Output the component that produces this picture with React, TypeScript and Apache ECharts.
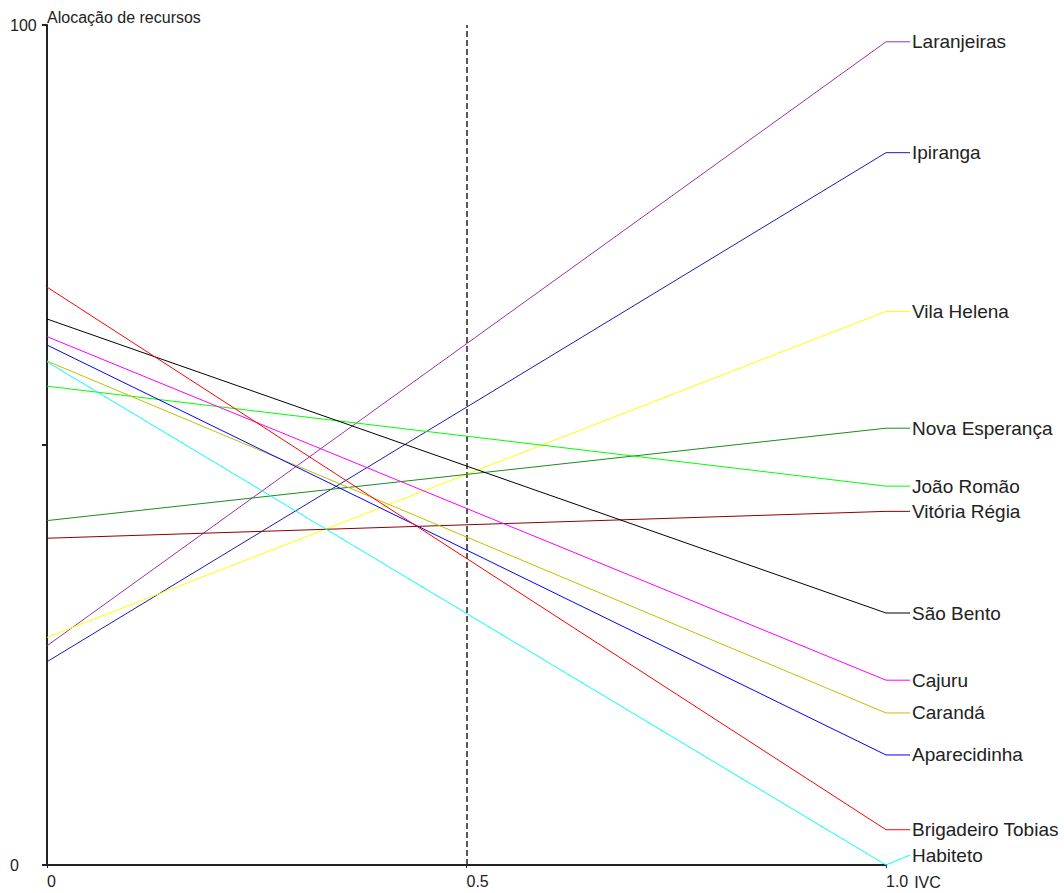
import React, { useEffect, useRef } from "react";
import * as echarts from "echarts";

const names = [
  "Laranjeiras",
  "Ipiranga",
  "Vila Helena",
  "Nova Esperança",
  "João Romão",
  "Vitória Régia",
  "São Bento",
  "Cajuru",
  "Carandá",
  "Aparecidinha",
  "Brigadeiro Tobias",
  "Habiteto",
];
const startValues = [26.1, 24.2, 27.1, 41.0, 57.0, 38.9, 65.0, 62.9, 60.0, 61.9, 68.8, 59.9];
const endValues = [98.0, 84.8, 65.9, 52.0, 45.1, 42.1, 30.0, 22.0, 18.1, 13.1, 4.2, 0];
const colors = [
  "#a030a0",
  "#1c1ca8",
  "#ffff00",
  "#1a8c1a",
  "#00ff00",
  "#8b0000",
  "#000000",
  "#ff00ff",
  "#c0c000",
  "#0000ff",
  "#ff0000",
  "#00ffff",
];
const xLabels: Record<string, string> = { "0": "0", "0.5": "0.5", "1": "1.0" };
const yLabels: Record<string, string> = { "0": "0", "50": "", "100": "100" };
const referenceX = 0.5;

export default function App() {
  const ref = useRef<HTMLDivElement>(null);
  useEffect(() => {
    const chart = echarts.init(ref.current!, null, { renderer: "svg" });
    const textColor = "#222";
    const font = "Liberation Sans";
    const series: any[] = names.map((n, i) => ({
      type: "line",
      name: n,
      data: [
        [0, startValues[i]],
        [1, endValues[i]],
      ],
      symbol: "none",
      clip: false,
      silent: true,
      lineStyle: { color: colors[i], width: 1 },
      itemStyle: { color: colors[i] },
      z: 3,
    }));
    series[0].markLine = {
      silent: true,
      symbol: "none",
      label: { show: false },
      lineStyle: { color: "#222", width: 1.5, type: [6, 3] },
      data: [{ xAxis: referenceX }],
      z: 2,
    };
    chart.setOption({
      animation: false,
      backgroundColor: "#fff",
      grid: { left: 47, right: 178, top: 25, bottom: 28, containLabel: false },
      xAxis: {
        type: "value",
        min: 0,
        max: 1,
        interval: 0.5,
        splitLine: { show: false },
        axisLine: { lineStyle: { color: "#222", width: 2 } },
        axisTick: { show: true, length: 3, lineStyle: { color: "#222" } },
        axisLabel: {
          formatter: (v: number) => xLabels[String(v)] ?? "",
          align: "left",
          margin: 8,
          color: textColor,
          fontFamily: font,
          fontSize: 16,
        },
        name: "IVC",
        nameLocation: "end",
        nameGap: 26,
        nameTextStyle: {
          color: textColor,
          fontFamily: font,
          fontSize: 16,
          align: "left",
          verticalAlign: "top",
          padding: [9, 0, 0, 0],
        },
      },
      yAxis: {
        type: "value",
        min: 0,
        max: 100,
        interval: 50,
        splitLine: { show: false },
        axisLine: { lineStyle: { color: "#222", width: 2 } },
        axisTick: { show: true, length: 5, lineStyle: { color: "#222", width: 2 } },
        axisLabel: {
          formatter: (v: number) => yLabels[String(v)] ?? "",
          align: "left",
          margin: 37,
          color: textColor,
          fontFamily: font,
          fontSize: 16,
          padding: [0, 0, 8, 0],
        },
        name: "Alocação de recursos",
        nameLocation: "end",
        nameGap: 0,
        nameTextStyle: {
          color: textColor,
          fontFamily: font,
          fontSize: 16,
          align: "left",
          verticalAlign: "bottom",
        },
      },
      series,
    });

    const bottomPx = chart.convertToPixel({ gridIndex: 0 }, [0, 0])[1];
    const graphic: any[] = [];
    names.forEach((n, i) => {
      const [x, y] = chart.convertToPixel({ gridIndex: 0 }, [1, endValues[i]]);
      const ly = Math.min(y, bottomPx - 10);
      graphic.push({
        type: "line",
        silent: true,
        shape: { x1: x, y1: y, x2: x + 24, y2: ly },
        style: { stroke: colors[i], lineWidth: 1 },
        z: 3,
      });
      graphic.push({
        type: "text",
        silent: true,
        x: x + 26,
        y: ly,
        style: {
          text: n,
          fill: textColor,
          fontFamily: font,
          fontSize: 19,
          align: "left",
          verticalAlign: "middle",
        },
        z: 4,
      });
    });
    chart.setOption({ graphic });
    return () => chart.dispose();
  }, []);
  return (
    <div
      ref={ref}
      style={{ position: "fixed", left: 0, top: 0, width: 1064, height: 893, background: "#fff" }}
    />
  );
}
